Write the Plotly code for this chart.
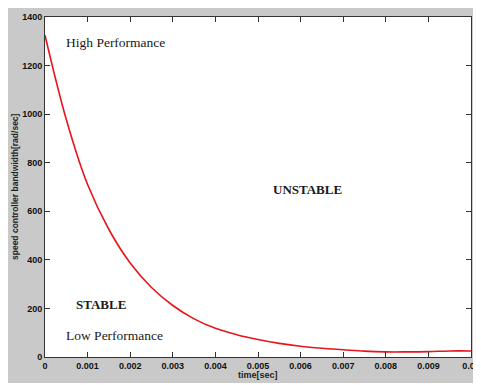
import plotly.graph_objects as go

# data
time_sec = [0, 0.0005, 0.001, 0.0015, 0.002, 0.0025, 0.003, 0.0035, 0.004, 0.0045,
            0.005, 0.0055, 0.006, 0.0065, 0.007, 0.0075, 0.008, 0.0085, 0.009, 0.0095, 0.01]
bandwidth = [1325, 978, 710, 525, 387, 286, 212, 157, 118, 92,
             72, 56, 44, 36, 30, 24, 21, 21, 22, 25, 25]

x_ticks = [0, 0.001, 0.002, 0.003, 0.004, 0.005, 0.006, 0.007, 0.008, 0.009, 0.01]
x_tick_labels = ["0", "0.001", "0.002", "0.003", "0.004", "0.005", "0.006", "0.007", "0.008", "0.009", "0.01"]
y_ticks = [0, 200, 400, 600, 800, 1000, 1200, 1400]

region_labels = ["High Performance", "UNSTABLE", "STABLE", "Low Performance"]
region_x = [0.00165, 0.00616, 0.00132, 0.00163]
region_y = [1297, 689, 216, 88]
region_bold = [False, True, True, False]

# the page body has an 8px margin, so the figure is sized/offset to compensate
W, H = 473, 377
L, R, T, B = 37, 10, 9, 28
pw, ph = W - L - R, H - T - B

fig = go.Figure()
fig.add_trace(go.Scatter(x=time_sec, y=bandwidth, mode="lines",
                         line=dict(color="#e8141c", width=1.6, shape="spline", smoothing=1.0),
                         showlegend=False, hoverinfo="skip"))

# thin white strip at very bottom of the picture
fig.add_shape(type="rect", xref="paper", yref="paper", layer="below",
              x0=-L / pw, x1=(W - L) / pw,
              y0=-B / ph, y1=(-B + 2) / ph,
              fillcolor="white", line=dict(width=0))

for txt, xx, yy, bold in zip(region_labels, region_x, region_y, region_bold):
    fig.add_annotation(x=xx, y=yy, xref="x", yref="y", showarrow=False,
                       xanchor="center", yanchor="middle",
                       text=f"<b>{txt}</b>" if bold else txt,
                       font=dict(family="Liberation Serif", size=13.5 if not bold else 13,
                                 color="#1a1a1a"))

fig.add_annotation(x=0.5, y=0, xref="paper", yref="paper", yshift=-18, showarrow=False,
                   xanchor="center", yanchor="middle",
                   text="<b>time[sec]</b>",
                   font=dict(family="Liberation Sans", size=9, color="#222"))
fig.add_annotation(x=0, y=0.5, xref="paper", yref="paper", xshift=-30, showarrow=False,
                   xanchor="center", yanchor="middle",
                   text="<b>speed controller bandwidth[rad/sec]</b>", textangle=-90,
                   font=dict(family="Liberation Sans", size=8.5, color="#222"))

axis_common = dict(showgrid=False, zeroline=False, showline=True, linecolor="#333",
                   linewidth=1, mirror="ticks", ticks="inside", ticklen=5,
                   tickcolor="#333", tickwidth=1,
                   tickfont=dict(family="Liberation Sans", size=9, color="#111", weight="bold"))

fig.update_xaxes(range=[0, 0.01], tickvals=x_ticks, ticktext=x_tick_labels, **axis_common)
fig.update_yaxes(range=[0, 1400], tickvals=y_ticks, **axis_common)

fig.update_layout(width=W, height=H, margin=dict(l=L, r=R, t=T, b=B, autoexpand=False),
                  paper_bgcolor="#c9c9c9", plot_bgcolor="white")

fig.write_html("out.html")
